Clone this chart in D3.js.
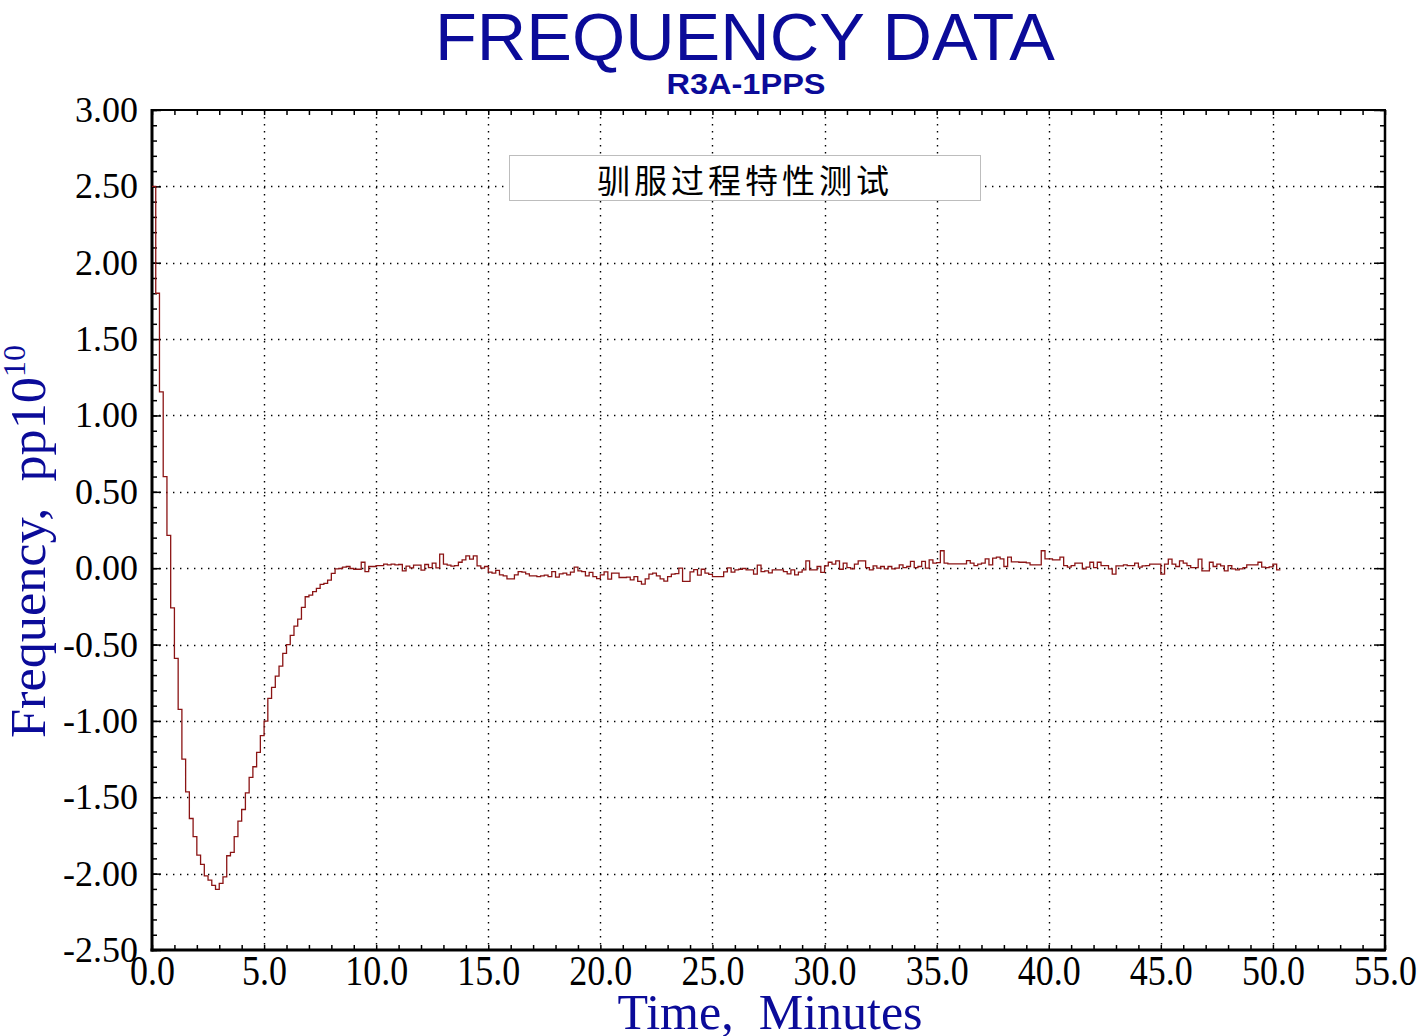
<!DOCTYPE html>
<html><head><meta charset="utf-8">
<script src="https://cdn.jsdelivr.net/npm/d3@7"></script>
<style>
html,body{margin:0;padding:0;background:#fff;}
svg{display:block;}
</style></head>
<body>
<script>
// ---- data ----
const sampleIntervalMin = 1/6; // 10-second samples, in minutes
const freqValues = [
 2.50, 1.80, 1.155, 0.60, 0.215, -0.26, -0.59, -0.925, -1.25, -1.464,
 -1.639, -1.758, -1.879, -1.94, -2.014, -2.042, -2.077, -2.103, -2.064, -2.021,
 -1.883, -1.861, -1.758, -1.656, -1.58, -1.471, -1.37, -1.30, -1.206, -1.097,
 -1.001, -0.853, -0.78, -0.707, -0.641, -0.558, -0.50, -0.44, -0.38, -0.333,
 -0.257, -0.187, -0.176, -0.154, -0.132, -0.106, -0.10, -0.078, -0.034, -0.004,
 -0.002, 0.007, 0.011, -0.002, -0.007, -0.007, 0.039, -0.022, 0.011, 0.011,
 0.017, 0.017, 0.026, 0.022, 0.026, 0.022, 0.024, -0.017, 0.013, 0.002,
 0.020, 0.020, -0.013, 0.024, 0.004, 0.033, 0.002, 0.092, 0.026, 0.020,
 0.013, 0.017, 0.039, 0.055, 0.081, 0.059, 0.081, 0.015, 0.000, 0.011,
 -0.026, -0.033, -0.015, -0.044, -0.050, -0.070, -0.070, -0.044, -0.022, -0.026,
 -0.037, -0.050, -0.050, -0.055, -0.050, -0.046, -0.055, -0.022, -0.059, -0.037,
 -0.033, -0.044, -0.026, 0.007, -0.017, -0.022, -0.050, -0.028, -0.055, -0.068,
 -0.044, -0.024, -0.072, -0.033, -0.033, -0.061, -0.061, -0.059, -0.076, -0.055,
 -0.087, -0.105, -0.070, -0.039, -0.033, -0.050, -0.070, -0.085, -0.055, -0.039,
 -0.035, 0.000, -0.087, -0.087, -0.024, -0.009, -0.046, -0.007, -0.033, -0.041,
 -0.055, -0.055, -0.055, -0.024, 0.002, -0.026, -0.011, -0.007, -0.002, -0.011,
 -0.011, -0.039, 0.020, -0.022, -0.017, -0.031, -0.011, -0.011, -0.011, -0.022,
 -0.037, -0.011, -0.044, -0.026, -0.011, 0.048, -0.011, -0.011, 0.011, -0.028,
 0.015, 0.039, 0.026, 0.048, -0.007, 0.033, 0.004, -0.004, 0.026, 0.048,
 0.048, 0.004, -0.011, 0.015, 0.000, 0.011, -0.004, 0.011, -0.004, 0.000,
 0.022, 0.004, 0.011, 0.044, 0.004, 0.011, 0.044, 0.000, 0.055, 0.033,
 0.037, 0.114, 0.033, 0.028, 0.028, 0.028, 0.028, 0.028, 0.050, 0.033,
 0.017, 0.026, 0.033, 0.061, 0.022, 0.066, 0.072, 0.061, 0.011, 0.072,
 0.041, 0.041, 0.039, 0.039, 0.035, 0.022, 0.022, 0.022, 0.114, 0.061,
 0.061, 0.055, 0.055, 0.072, 0.017, 0.007, 0.017, 0.033, 0.033, -0.004,
 0.007, 0.039, 0.004, 0.039, 0.017, 0.017, -0.004, -0.039, 0.015, 0.015,
 0.022, 0.017, 0.017, 0.033, 0.007, 0.015, 0.017, 0.026, 0.026, 0.026,
 -0.039, 0.026, 0.059, 0.026, 0.011, 0.048, 0.033, 0.017, 0.004, 0.004,
 0.059, -0.017, -0.017, 0.039, 0.011, 0.026, 0.015, -0.017, 0.017, -0.004,
 -0.011, -0.004, 0.004, 0.022, 0.022, 0.022, 0.039, 0.007, 0.004, 0.009,
 0.026, -0.011
];
const xTickValues = [0,5,10,15,20,25,30,35,40,45,50,55];
const xTickLabels = ["0.0","5.0","10.0","15.0","20.0","25.0","30.0","35.0","40.0","45.0","50.0","55.0"];
const yTickValues = [-2.5,-2,-1.5,-1,-0.5,0,0.5,1,1.5,2,2.5,3];
const yTickLabels = ["-2.50","-2.00","-1.50","-1.00","-0.50","0.00","0.50","1.00","1.50","2.00","2.50","3.00"];
const titleText = "FREQUENCY DATA";
const subtitleText = "R3A-1PPS";
const legendText = "驯服过程特性测试";
const xLabel = "Time,  Minutes";
const yLabelMain = "Frequency,  pp10";
const yLabelSup = "10";

// ---- chart ----
const W = 1418, H = 1036;
const L = 152, R = 1385, T = 110, B = 950;
const svg = d3.select("body").append("svg").attr("width", W).attr("height", H);

const x = d3.scaleLinear().domain([0, 55]).range([L, R]);
const y = d3.scaleLinear().domain([-2.5, 3]).range([B, T]);

const blue = "#0b0b99";
const serif = "'Liberation Serif','Times New Roman',serif";
const sans = "'Liberation Sans',Arial,sans-serif";

// grid
const grid = svg.append("g").attr("stroke", "#000").attr("stroke-width", 1.4)
  .attr("stroke-dasharray", "1.4,5.6").attr("fill", "none");
grid.selectAll("line.vx").data(xTickValues.filter(v => v > 0 && v < 55)).join("line")
  .attr("x1", d => Math.round(x(d)) + 0.5).attr("x2", d => Math.round(x(d)) + 0.5)
  .attr("y1", T).attr("y2", B);
grid.selectAll("line.hy").data(yTickValues.filter(v => v > -2.5 && v < 3)).join("line")
  .attr("y1", d => Math.round(y(d)) + 0.5).attr("y2", d => Math.round(y(d)) + 0.5)
  .attr("x1", L).attr("x2", R);

// minor/major ticks via d3 axes
const xMinor = d3.range(0, 56, 1);
const yMinor = d3.range(-25, 31, 1).map(v => v / 10);
function styleAxis(g, w) {
  g.select(".domain").remove();
  g.selectAll(".tick line").attr("stroke", "#000").attr("stroke-width", w);
}
svg.append("g").attr("transform", `translate(0,${B})`)
  .call(d3.axisBottom(x).tickValues(xMinor).tickSize(-5).tickFormat(""))
  .call(g => styleAxis(g, 1.5));
svg.append("g").attr("transform", `translate(0,${T})`)
  .call(d3.axisTop(x).tickValues(xMinor).tickSize(-5).tickFormat(""))
  .call(g => styleAxis(g, 1.5));
svg.append("g").attr("transform", `translate(${L},0)`)
  .call(d3.axisLeft(y).tickValues(yMinor).tickSize(-5).tickFormat(""))
  .call(g => styleAxis(g, 1.5));
svg.append("g").attr("transform", `translate(${R},0)`)
  .call(d3.axisRight(y).tickValues(yMinor).tickSize(-5).tickFormat(""))
  .call(g => styleAxis(g, 1.5));
svg.append("g").attr("transform", `translate(${R},0)`)
  .call(d3.axisRight(y).tickValues(yTickValues).tickSize(-11).tickFormat(""))
  .call(g => styleAxis(g, 1.5));
svg.append("g").attr("transform", `translate(${L},0)`)
  .call(d3.axisLeft(y).tickValues(yTickValues).tickSize(-9).tickFormat(""))
  .call(g => styleAxis(g, 1.5));

// tick labels
const xAx = svg.append("g").attr("transform", `translate(0,${B})`)
  .call(d3.axisBottom(x).tickValues(xTickValues).tickSize(0).tickPadding(4)
    .tickFormat((d, i) => xTickLabels[i]));
xAx.select(".domain").remove();
xAx.selectAll("text").attr("font-family", serif).attr("font-size", 36).attr("fill", "#000")
  .attr("transform", "scale(1,1.2)");

const yAx = svg.append("g").attr("transform", `translate(${L},0)`)
  .call(d3.axisLeft(y).tickValues(yTickValues).tickSize(0).tickPadding(14)
    .tickFormat((d, i) => yTickLabels[i]));
yAx.select(".domain").remove();
yAx.selectAll("text").attr("font-family", serif).attr("font-size", 36).attr("fill", "#000");

// frame
svg.append("line").attr("x1", L).attr("x2", R + 1).attr("y1", T).attr("y2", T).attr("stroke", "#000").attr("stroke-width", 2);
svg.append("line").attr("x1", R).attr("x2", R).attr("y1", T).attr("y2", B).attr("stroke", "#000").attr("stroke-width", 2.5);
svg.append("line").attr("x1", L).attr("x2", L).attr("y1", T - 1).attr("y2", B + 1.5).attr("stroke", "#000").attr("stroke-width", 3);
svg.append("line").attr("x1", L - 1.5).attr("x2", R + 1).attr("y1", B).attr("y2", B).attr("stroke", "#000").attr("stroke-width", 3);

// data line (step)
const pts = freqValues.map((v, i) => [i * sampleIntervalMin, v]);
pts.push([freqValues.length * sampleIntervalMin, freqValues[freqValues.length - 1]]);
const line = d3.line().x(d => x(d[0])).y(d => y(d[1])).curve(d3.curveStepAfter);
svg.append("path").datum(pts).attr("d", line).attr("fill", "none")
  .attr("stroke", "#8b1414").attr("stroke-width", 1.3);

// legend box
svg.append("rect").attr("x", 509.5).attr("y", 155.5).attr("width", 471).attr("height", 45)
  .attr("fill", "#fff").attr("stroke", "#bdbdbd").attr("stroke-width", 1);
svg.append("text").attr("x", 745).attr("y", 193).attr("text-anchor", "middle")
  .attr("font-family", "'Noto Sans CJK SC','Noto Sans CJK JP',sans-serif")
  .attr("font-size", 33).attr("letter-spacing", 4).attr("fill", "#000").text(legendText);

// titles
svg.append("text").attr("x", 745).attr("y", 60).attr("text-anchor", "middle")
  .attr("font-family", sans).attr("font-size", 67).attr("fill", blue)
  .attr("textLength", 620).attr("lengthAdjust", "spacingAndGlyphs").text(titleText);
svg.append("text").attr("x", 746).attr("y", 94).attr("text-anchor", "middle")
  .attr("font-family", sans).attr("font-weight", "bold").attr("font-size", 30).attr("fill", blue)
  .attr("textLength", 159).attr("lengthAdjust", "spacingAndGlyphs").text(subtitleText);

// axis labels
svg.append("text").attr("x", 770).attr("y", 1029).attr("text-anchor", "middle")
  .attr("font-family", serif).attr("font-size", 50).attr("fill", blue)
  .style("white-space", "pre").attr("xml:space", "preserve").text(xLabel);

const yl = svg.append("text").attr("transform", "translate(45,738) rotate(-90)")
  .attr("font-family", serif).attr("font-size", 50).attr("fill", blue)
  .attr("xml:space", "preserve").style("white-space", "pre");
yl.append("tspan").attr("textLength", 361).attr("lengthAdjust", "spacingAndGlyphs").text(yLabelMain);
yl.append("tspan").attr("font-size", 32).attr("dy", -20).text(yLabelSup);
</script>
</body></html>
